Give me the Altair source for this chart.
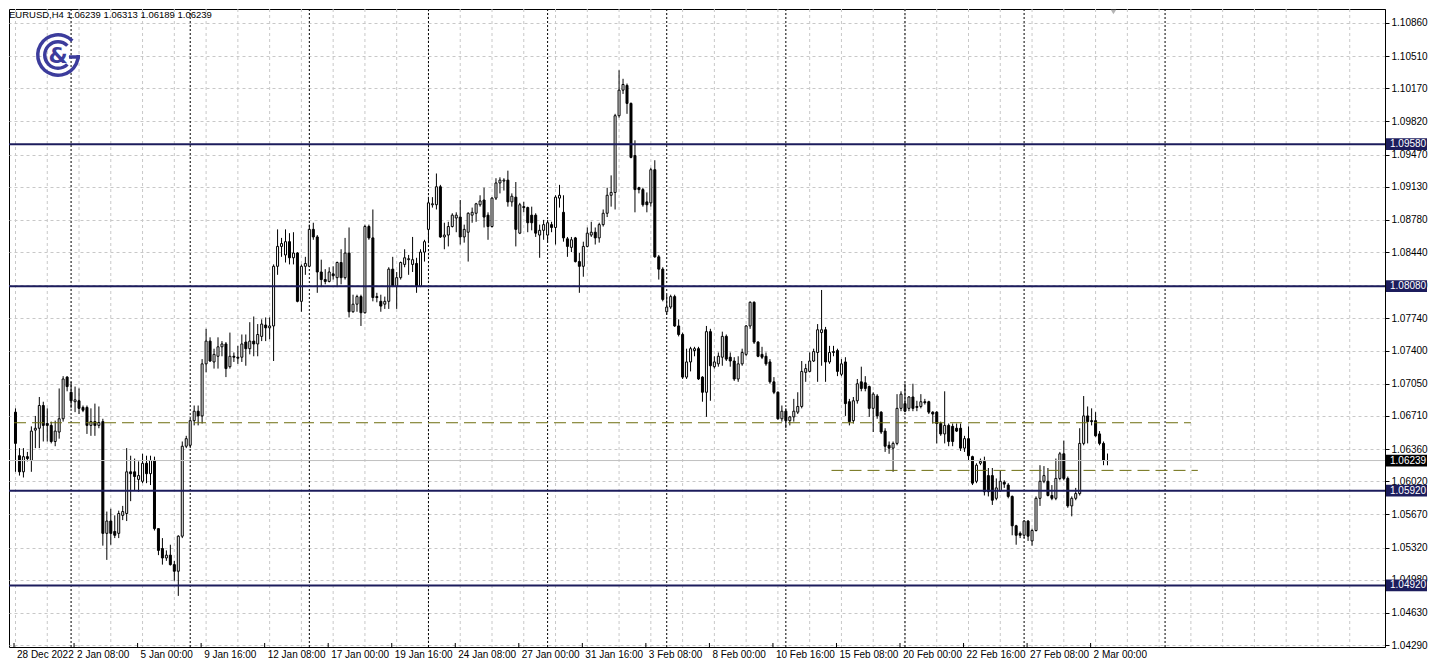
import altair as alt
import pandas as pd
import numpy as np

# ---------------- data (EURUSD H4 candles) ----------------
opens = [
    1.0675, 1.0629, 1.0612, 1.0628, 1.0624, 1.0656, 1.0658, 1.0682, 1.0663, 1.0661,
    1.0644, 1.0654, 1.0668, 1.0712, 1.0696, 1.0686, 1.0687, 1.0680, 1.0680, 1.0661,
    1.0665, 1.0661, 1.0665, 1.0547, 1.0560, 1.0549, 1.0547, 1.0566, 1.0568, 1.0612,
    1.0612, 1.0604, 1.0602, 1.0621, 1.0610, 1.0624, 1.0552, 1.0531, 1.0521, 1.0524,
    1.0514, 1.0507, 1.0544, 1.0639, 1.0640, 1.0666, 1.0676, 1.0671, 1.0726, 1.0750,
    1.0728, 1.0734, 1.0744, 1.0747, 1.0723, 1.0734, 1.0733, 1.0733, 1.0749, 1.0742,
    1.0750, 1.0747, 1.0755, 1.0767, 1.0764, 1.0766, 1.0829, 1.0850, 1.0841, 1.0855,
    1.0838, 1.0843, 1.0792, 1.0829, 1.0829, 1.0868, 1.0860, 1.0823, 1.0815, 1.0813,
    1.0821, 1.0817, 1.0833, 1.0817, 1.0843, 1.0781, 1.0789, 1.0797, 1.0780, 1.0871,
    1.0859, 1.0797, 1.0792, 1.0789, 1.0792, 1.0826, 1.0808, 1.0817, 1.0831, 1.0836,
    1.0831, 1.0832, 1.0808, 1.0844, 1.0868, 1.0894, 1.0894, 1.0913, 1.0860, 1.0862,
    1.0871, 1.0880, 1.0881, 1.0860, 1.0865, 1.0883, 1.0885, 1.0894, 1.0899, 1.0883,
    1.0871, 1.0901, 1.0917, 1.0919, 1.0920, 1.0897, 1.0902, 1.0864, 1.0892, 1.0891,
    1.0883, 1.0883, 1.0862, 1.0867, 1.0862, 1.0873, 1.0870, 1.0901, 1.0886, 1.0858,
    1.0849, 1.0859, 1.0834, 1.0829, 1.0850, 1.0862, 1.0865, 1.0859, 1.0873, 1.0885,
    1.0904, 1.0907, 1.0988, 1.1015, 1.1020, 1.1001, 1.0946, 1.0912, 1.0910, 1.0897,
    1.0896, 1.0931, 1.0839, 1.0826, 1.0781, 1.0786, 1.0797, 1.0766, 1.0757, 1.0712,
    1.0728, 1.0740, 1.0742, 1.0712, 1.0696, 1.0760, 1.0723, 1.0726, 1.0733, 1.0755,
    1.0733, 1.0729, 1.0710, 1.0726, 1.0736, 1.0766, 1.0791, 1.0749, 1.0736, 1.0734,
    1.0728, 1.0707, 1.0696, 1.0668, 1.0676, 1.0666, 1.0670, 1.0675, 1.0681, 1.0717,
    1.0718, 1.0729, 1.0738, 1.0759, 1.0762, 1.0728, 1.0738, 1.0740, 1.0715, 1.0728,
    1.0686, 1.0666, 1.0687, 1.0707, 1.0706, 1.0702, 1.0679, 1.0692, 1.0675, 1.0655,
    1.0640, 1.0637, 1.0642, 1.0679, 1.0684, 1.0679, 1.0691, 1.0681, 1.0681, 1.0686,
    1.0686, 1.0675, 1.0675, 1.0663, 1.0652, 1.0661, 1.0660, 1.0658, 1.0658, 1.0637,
    1.0647, 1.0628, 1.0602, 1.0621, 1.0623, 1.0608, 1.0608, 1.0584, 1.0592, 1.0601,
    1.0598, 1.0586, 1.0555, 1.0547, 1.0545, 1.0560, 1.0539, 1.0550, 1.0584, 1.0602,
    1.0602, 1.0587, 1.0584, 1.0605, 1.0631, 1.0605, 1.0576, 1.0584, 1.0589, 1.0642,
    1.0671, 1.0666, 1.0666, 1.0652, 1.0642, 1.06239,
]
highs = [
    1.0679, 1.0637, 1.0637, 1.0633, 1.0660, 1.0671, 1.0691, 1.0686, 1.0679, 1.0665,
    1.0666, 1.0700, 1.0713, 1.0713, 1.0707, 1.0702, 1.0700, 1.0682, 1.0682, 1.0679,
    1.0684, 1.0681, 1.0668, 1.0570, 1.0573, 1.0566, 1.0571, 1.0576, 1.0637, 1.0629,
    1.0626, 1.0623, 1.0631, 1.0629, 1.0629, 1.0628, 1.0552, 1.0542, 1.0529, 1.0535,
    1.0518, 1.0545, 1.0644, 1.0650, 1.0668, 1.0682, 1.0682, 1.0731, 1.0763, 1.0754,
    1.0742, 1.0754, 1.0750, 1.0749, 1.0759, 1.0738, 1.0745, 1.0757, 1.0757, 1.0770,
    1.0776, 1.0768, 1.0773, 1.0775, 1.0775, 1.0831, 1.0868, 1.0859, 1.0868, 1.0864,
    1.0865, 1.0844, 1.0831, 1.0839, 1.0873, 1.0875, 1.0862, 1.0836, 1.0826, 1.0828,
    1.0829, 1.0834, 1.0847, 1.0859, 1.0870, 1.0799, 1.0799, 1.0799, 1.0873, 1.0873,
    1.0889, 1.0801, 1.0799, 1.0797, 1.0828, 1.0839, 1.0823, 1.0834, 1.0847, 1.0841,
    1.0860, 1.0838, 1.0847, 1.0857, 1.0902, 1.0902, 1.0927, 1.0915, 1.0875, 1.0876,
    1.0885, 1.0886, 1.0899, 1.0873, 1.0886, 1.0891, 1.0896, 1.0904, 1.0912, 1.0886,
    1.0902, 1.0922, 1.0923, 1.0922, 1.0930, 1.0906, 1.0918, 1.0896, 1.0897, 1.0892,
    1.0892, 1.0885, 1.0873, 1.0878, 1.0878, 1.0876, 1.0904, 1.0915, 1.0904, 1.0860,
    1.0860, 1.0860, 1.0843, 1.0855, 1.0870, 1.0876, 1.0870, 1.0875, 1.0889, 1.0912,
    1.0925, 1.0990, 1.1036, 1.1027, 1.1022, 1.1002, 1.0962, 1.0913, 1.0912, 1.0907,
    1.0933, 1.0941, 1.0841, 1.0828, 1.0799, 1.0799, 1.0799, 1.0773, 1.0759, 1.0742,
    1.0744, 1.0744, 1.0744, 1.0713, 1.0766, 1.0763, 1.0734, 1.0738, 1.0760, 1.0757,
    1.0738, 1.0733, 1.0734, 1.0742, 1.0767, 1.0792, 1.0792, 1.0750, 1.0744, 1.0738,
    1.0731, 1.0712, 1.0697, 1.0682, 1.0679, 1.0671, 1.0689, 1.0696, 1.0729, 1.0726,
    1.0738, 1.0742, 1.0768, 1.0804, 1.0765, 1.0745, 1.0745, 1.0742, 1.0731, 1.0733,
    1.0689, 1.0691, 1.0710, 1.0723, 1.0713, 1.0703, 1.0696, 1.0694, 1.0676, 1.0658,
    1.0644, 1.0644, 1.0694, 1.0697, 1.0705, 1.0692, 1.0705, 1.0687, 1.0694, 1.0689,
    1.0687, 1.0676, 1.0676, 1.0665, 1.0697, 1.0663, 1.0663, 1.0663, 1.0663, 1.0650,
    1.0660, 1.0629, 1.0621, 1.0626, 1.0628, 1.0616, 1.0616, 1.0605, 1.0613, 1.0603,
    1.0600, 1.0587, 1.0556, 1.0549, 1.0561, 1.0561, 1.0552, 1.0586, 1.0619, 1.0618,
    1.0616, 1.0598, 1.0626, 1.0633, 1.0645, 1.0607, 1.0586, 1.0595, 1.0658, 1.0692,
    1.0681, 1.0679, 1.0675, 1.0655, 1.0644, 1.06313,
]
lows = [
    1.0612, 1.0608, 1.0606, 1.0623, 1.0612, 1.0637, 1.0637, 1.0644, 1.0644, 1.0642,
    1.0639, 1.0647, 1.0665, 1.0697, 1.0679, 1.0675, 1.0673, 1.0675, 1.0652, 1.0650,
    1.0650, 1.0658, 1.0534, 1.0519, 1.0535, 1.0542, 1.0542, 1.0561, 1.0560, 1.0581,
    1.0592, 1.0591, 1.0600, 1.0600, 1.0598, 1.0550, 1.0524, 1.0514, 1.0518, 1.0513,
    1.0497, 1.0481, 1.0542, 1.0637, 1.0637, 1.0661, 1.0661, 1.0663, 1.0717, 1.0728,
    1.0721, 1.0721, 1.0734, 1.0712, 1.0721, 1.0728, 1.0726, 1.0728, 1.0724, 1.0736,
    1.0734, 1.0734, 1.0750, 1.0750, 1.0752, 1.0729, 1.0820, 1.0839, 1.0833, 1.0831,
    1.0831, 1.0791, 1.0781, 1.0820, 1.0828, 1.0857, 1.0801, 1.0807, 1.0810, 1.0812,
    1.0815, 1.0807, 1.0810, 1.0815, 1.0775, 1.0780, 1.0781, 1.0766, 1.0779, 1.0857,
    1.0792, 1.0791, 1.0781, 1.0784, 1.0784, 1.0807, 1.0784, 1.0815, 1.0828, 1.0820,
    1.0823, 1.0801, 1.0807, 1.0834, 1.0854, 1.0891, 1.0889, 1.0859, 1.0847, 1.0850,
    1.0870, 1.0865, 1.0852, 1.0854, 1.0834, 1.0875, 1.0876, 1.0892, 1.0870, 1.0857,
    1.0870, 1.0899, 1.0906, 1.0909, 1.0892, 1.0892, 1.0850, 1.0863, 1.0886, 1.0865,
    1.0867, 1.0860, 1.0838, 1.0857, 1.0854, 1.0865, 1.0852, 1.0891, 1.0855, 1.0839,
    1.0844, 1.0833, 1.0801, 1.0818, 1.0849, 1.0860, 1.0852, 1.0854, 1.0871, 1.0881,
    1.0892, 1.0889, 1.0986, 1.1011, 1.0990, 1.0943, 1.0886, 1.0906, 1.0892, 1.0886,
    1.0892, 1.0838, 1.0815, 1.0792, 1.0778, 1.0784, 1.0765, 1.0755, 1.0710, 1.0710,
    1.0718, 1.0734, 1.0709, 1.0686, 1.0670, 1.0687, 1.0721, 1.0723, 1.0724, 1.0729,
    1.0723, 1.0708, 1.0707, 1.0724, 1.0734, 1.0763, 1.0747, 1.0733, 1.0731, 1.0724,
    1.0705, 1.0694, 1.0667, 1.0665, 1.0658, 1.0661, 1.0665, 1.0673, 1.0679, 1.0707,
    1.0717, 1.0728, 1.0707, 1.0724, 1.0707, 1.0726, 1.0734, 1.0713, 1.0713, 1.0671,
    1.0661, 1.0663, 1.0684, 1.0697, 1.0697, 1.0670, 1.0654, 1.0668, 1.0652, 1.0633,
    1.0631, 1.0612, 1.0640, 1.0676, 1.0675, 1.0676, 1.0676, 1.0676, 1.0679, 1.0683,
    1.0673, 1.0663, 1.0642, 1.0650, 1.0642, 1.0639, 1.0639, 1.0654, 1.0634, 1.0633,
    1.0624, 1.0598, 1.0600, 1.0619, 1.0587, 1.0586, 1.0577, 1.0582, 1.0591, 1.0595,
    1.0584, 1.0545, 1.0535, 1.0542, 1.0542, 1.0539, 1.0534, 1.0549, 1.0576, 1.0600,
    1.0586, 1.0582, 1.0582, 1.0603, 1.0603, 1.0574, 1.0565, 1.0582, 1.0587, 1.0640,
    1.0642, 1.0661, 1.0649, 1.0640, 1.0619, 1.06189,
]
closes = [
    1.0642, 1.0612, 1.0628, 1.0626, 1.0655, 1.0658, 1.0682, 1.0661, 1.0661, 1.0644,
    1.0655, 1.0668, 1.0710, 1.0702, 1.0687, 1.0688, 1.0679, 1.0677, 1.0661, 1.0665,
    1.0661, 1.0664, 1.0547, 1.0560, 1.0547, 1.0545, 1.0568, 1.0570, 1.0612, 1.0610,
    1.0607, 1.0608, 1.0621, 1.0610, 1.0624, 1.0552, 1.0529, 1.0521, 1.0524, 1.0514,
    1.0507, 1.0544, 1.0639, 1.0647, 1.0666, 1.0676, 1.0671, 1.0726, 1.0750, 1.0729,
    1.0736, 1.0744, 1.0747, 1.0721, 1.0734, 1.0733, 1.0732, 1.0747, 1.0742, 1.0750,
    1.0747, 1.0757, 1.0768, 1.0764, 1.0766, 1.0829, 1.0850, 1.0853, 1.0855, 1.0838,
    1.0843, 1.0792, 1.0829, 1.0832, 1.0868, 1.0860, 1.0823, 1.0815, 1.0813, 1.0823,
    1.0819, 1.0833, 1.0817, 1.0843, 1.0781, 1.0789, 1.0797, 1.0780, 1.0871, 1.0859,
    1.0796, 1.0796, 1.0787, 1.0792, 1.0826, 1.0808, 1.0817, 1.0833, 1.0838, 1.0837,
    1.0836, 1.0808, 1.0844, 1.0855, 1.0896, 1.0895, 1.0913, 1.0860, 1.0862, 1.0871,
    1.0883, 1.0883, 1.0860, 1.0868, 1.0885, 1.0886, 1.0895, 1.0898, 1.0881, 1.0871,
    1.0901, 1.0917, 1.0920, 1.0920, 1.0897, 1.0903, 1.0868, 1.0894, 1.0891, 1.0875,
    1.0875, 1.0864, 1.0867, 1.0873, 1.0875, 1.0870, 1.0902, 1.0904, 1.0859, 1.0850,
    1.0857, 1.0834, 1.0829, 1.0850, 1.0864, 1.0865, 1.0859, 1.0873, 1.0885, 1.0904,
    1.0907, 1.0988, 1.1015, 1.1021, 1.1001, 1.0944, 1.0910, 1.0910, 1.0894, 1.0894,
    1.0931, 1.0839, 1.0826, 1.0794, 1.0786, 1.0797, 1.0766, 1.0757, 1.0712, 1.0728,
    1.0742, 1.0742, 1.0710, 1.0696, 1.0760, 1.0724, 1.0728, 1.0734, 1.0755, 1.0731,
    1.0729, 1.0710, 1.0726, 1.0738, 1.0766, 1.0791, 1.0749, 1.0734, 1.0733, 1.0726,
    1.0707, 1.0696, 1.0668, 1.0676, 1.0666, 1.0670, 1.0676, 1.0681, 1.0718, 1.0721,
    1.0729, 1.0739, 1.0762, 1.0762, 1.0728, 1.0738, 1.0739, 1.0718, 1.0726, 1.0684,
    1.0665, 1.0687, 1.0705, 1.0700, 1.0700, 1.0679, 1.0694, 1.0671, 1.0654, 1.0639,
    1.0637, 1.0642, 1.0679, 1.0694, 1.0676, 1.0691, 1.0679, 1.0680, 1.0686, 1.0685,
    1.0675, 1.0673, 1.0663, 1.0652, 1.0661, 1.0644, 1.0644, 1.0655, 1.0637, 1.0647,
    1.0629, 1.0600, 1.0619, 1.0623, 1.0591, 1.0591, 1.0582, 1.0595, 1.0602, 1.0599,
    1.0586, 1.0555, 1.0545, 1.0545, 1.0560, 1.0544, 1.0550, 1.0584, 1.0602, 1.0608,
    1.0587, 1.0584, 1.0605, 1.0631, 1.0605, 1.0576, 1.0584, 1.0589, 1.0642, 1.0671,
    1.0665, 1.0665, 1.0650, 1.0642, 1.0624, 1.06239,
]

# price axis tick values
price_ticks = [1.1086, 1.1051, 1.1017, 1.0982, 1.0947, 1.0913, 1.0878, 1.0844, 1.0809,
               1.0774, 1.0740, 1.0705, 1.0671, 1.0636, 1.0602, 1.0567, 1.0532, 1.0498,
               1.0463, 1.0429]

# time axis labels (bar positions where the labels sit)
time_labels = ["28 Dec 2022", "2 Jan 08:00", "5 Jan 00:00", "9 Jan 16:00", "12 Jan 08:00",
               "17 Jan 00:00", "19 Jan 16:00", "24 Jan 08:00", "27 Jan 00:00", "31 Jan 16:00",
               "3 Feb 08:00", "8 Feb 00:00", "10 Feb 16:00", "15 Feb 08:00", "20 Feb 00:00",
               "22 Feb 16:00", "27 Feb 08:00", "2 Mar 00:00"]
time_pos = [-0.375, 14.75, 30.75, 46.75, 62.75, 78.75, 94.75, 110.75, 126.75, 142.75,
            158.75, 174.75, 190.75, 206.75, 222.75, 238.75, 254.75, 270.75]

# weekly period separators (bar positions)
separators = [14, 44, 74, 104, 134, 164, 194, 224, 254, 289.5]

# horizontal levels
level_prices = [1.0958, 1.0808, 1.0592, 1.0492]
level_labels = ["1.09580", "1.08080", "1.05920", "1.04920"]
current_price = 1.06239
current_label = "1.06239"

# dashed trend lines (start bar, end bar, price)
dash_start = [-0.375, 205.5]
dash_end = [296, 297.75]
dash_price = [1.06638, 1.06135]

header = "EURUSD,H4  1.06239 1.06313 1.06189 1.06239"

# ---------------- chart ----------------
W, H = 1376, 638
FONT = "Liberation Sans"
NAVY = "#1c1c5c"
LOGO = "#3c3c9c"

n = len(opens)
df = pd.DataFrame({"idx": np.arange(n), "open": opens, "high": highs,
                   "low": lows, "close": closes})
df["fillc"] = np.where(df["close"] >= df["open"], "#ffffff", "#000000")

xscale = alt.Scale(domain=[-0.375, -0.375 + W / 4.0], nice=False, zero=False)
yscale = alt.Scale(domain=[1.04270, 1.11007], nice=False, zero=False)

yaxis = alt.Axis(orient="right", values=price_ticks, format=".5f", title=None,
                 labelFont=FONT, labelFontSize=10, labelColor="#000000",
                 tickColor="#000000", tickSize=4, domainColor="#000000",
                 grid=True, gridColor="#c8c8c8", gridDash=[3, 3], labelPadding=2,
                 labelFlush=False, labelOverlap=False)


def X(f):
    return alt.X(f, type="quantitative", scale=xscale, axis=None)


def Y(f):
    return alt.Y(f, type="quantitative", scale=yscale, axis=yaxis)


grid_df = pd.DataFrame({"g": list(range(0, 344, 8))})
vgrid = alt.Chart(grid_df).mark_rule(color="#c8c8c8", strokeDash=[3, 3],
                                     strokeWidth=1).encode(x=X("g"))

sep_df = pd.DataFrame({"s": separators})
seps = alt.Chart(sep_df).mark_rule(color="#000000", strokeDash=[2, 2],
                                   strokeWidth=1).encode(x=X("s"))

wicks = alt.Chart(df).mark_rule(color="#000000", strokeWidth=1).encode(
    x=X("idx"), y=Y("low"), y2=alt.Y2("high"))

bodies = alt.Chart(df).mark_bar(size=2, stroke="#000000", strokeWidth=1).encode(
    x=X("idx"), y=Y("open"), y2=alt.Y2("close"),
    fill=alt.Fill("fillc:N", scale=None),
)

cur_df = pd.DataFrame({"p": [current_price], "lab": [current_label], "col": ["#000000"]})
cur_line = alt.Chart(cur_df).mark_rule(color="#c0c0c0", strokeWidth=1).encode(y=Y("p"))

dash_df = pd.DataFrame({"x1": dash_start, "x2": dash_end, "p": dash_price})
dashes = alt.Chart(dash_df).mark_rule(color="#6e6e10", strokeDash=[12, 6],
                                      strokeWidth=1).encode(
    x=X("x1"), x2=alt.X2("x2"), y=Y("p"))

lvl_df = pd.DataFrame({"p": level_prices, "lab": level_labels, "col": [NAVY] * 4})
levels = alt.Chart(lvl_df).mark_rule(color=NAVY, strokeWidth=2).encode(y=Y("p"))

box_df = pd.concat([lvl_df, cur_df], ignore_index=True)
boxes = alt.Chart(box_df).transform_calculate(
    lo="datum.p - 0.00062", hi="datum.p + 0.00062"
).mark_rect().encode(
    x=alt.value(W + 1), x2=alt.value(W + 42), y=Y("lo"), y2=alt.Y2("hi"),
    fill=alt.Fill("col:N", scale=None),
)
box_text = alt.Chart(box_df).mark_text(align="left", baseline="middle", font=FONT,
                                       fontSize=10, color="#ffffff").encode(
    x=alt.value(W + 5), y=Y("p"), text="lab:N")

tl_df = pd.DataFrame({"t": time_pos, "lab": time_labels})
tlabels = alt.Chart(tl_df).mark_text(align="left", baseline="middle", font=FONT,
                                     fontSize=10, color="#000000", dx=3).encode(
    x=X("t"), y=alt.value(H + 8), text="lab:N")
tticks = alt.Chart(tl_df).mark_rule(color="#000000", strokeWidth=1).encode(
    x=X("t"), y=alt.value(H - 4), y2=alt.value(H))

hdr = alt.Chart(pd.DataFrame({"h": [header]})).mark_text(
    align="left", baseline="middle", font=FONT, fontSize=9.5, color="#000000").encode(
    x=alt.value(0), y=alt.value(6), text="h:N")

logo_df = pd.DataFrame({"a": [0]})
logo_outer = alt.Chart(logo_df).mark_arc(radius=22, radius2=18.5, theta=1.5708,
                                         theta2=7.0686, color=LOGO).encode(
    x=alt.value(49), y=alt.value(46))
logo_inner = alt.Chart(logo_df).mark_arc(radius=15, radius2=11.5, theta=2.3562,
                                         theta2=7.0686, color=LOGO).encode(
    x=alt.value(49), y=alt.value(46))
logo_bar = alt.Chart(logo_df).mark_rule(color=LOGO, strokeWidth=3.5).encode(
    x=alt.value(60), x2=alt.value(71), y=alt.value(48))
logo_amp = alt.Chart(pd.DataFrame({"t": ["&"]})).mark_text(
    font="DejaVu Sans", fontSize=22, fontWeight="bold", color=LOGO,
    align="center", baseline="middle").encode(
    x=alt.value(49), y=alt.value(47), text="t:N")

marker = alt.Chart(pd.DataFrame({"m": [276.5]})).mark_point(
    shape="triangle-down", filled=True, color="#b4b4b4", size=30, opacity=1).encode(
    x=X("m"), y=alt.value(3))

chart = alt.layer(
    vgrid, seps, wicks, bodies, cur_line, dashes, levels,
    boxes, box_text, tlabels, tticks, hdr,
    logo_outer, logo_inner, logo_bar, logo_amp, marker,
).properties(
    width=W, height=H, background="#ffffff",
    padding={"left": 0, "top": 0, "right": 2, "bottom": 2},
).configure_view(stroke="#000000", strokeWidth=1)

chart.save("out.html", embed_options={"renderer": "svg", "actions": False})
